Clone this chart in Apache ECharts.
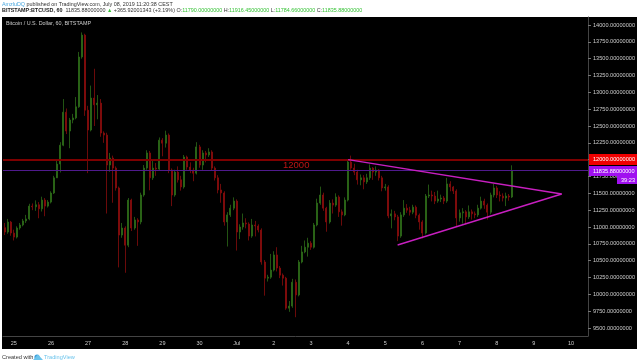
<!DOCTYPE html>
<html>
<head>
<meta charset="utf-8">
<title>BTCUSD</title>
<style>
  html, body { margin: 0; padding: 0; background: #fff; }
  #chart { width: 640px; height: 364px; }
</style>
<script src="https://cdn.jsdelivr.net/npm/echarts@6/dist/echarts.min.js"></script>
</head>
<body>
<div id="chart"></div>
<script>
const dayLabels = ['25', '26', '27', '28', '29', '30', 'Jul', '2', '3', '4', '5', '6', '7', '8', '9', '10'];
const priceTicks = [9500, 9750, 10000, 10250, 10500, 10750, 11000, 11250, 11500, 11750, 12000, 12250, 12500, 12750, 13000, 13250, 13500, 13750, 14000];

// two-hour bars, 12 per line
const opens = [
  10990, 10925, 11073, 10910, 10850, 10985, 11030, 11090, 11120, 11310, 11300, 11330,
  11270, 11400, 11310, 11370, 11505, 11730, 11935, 12215, 12705, 12425, 12590, 12620,
  12785, 13525, 13850, 12735, 12440, 12915, 12815, 12840, 12395, 12365, 11920, 12025,
  11875, 11580, 10880, 10985, 10730, 11400, 10985, 11105, 11075, 11475, 11875, 12100,
  11730, 11875, 11860, 12290, 12245, 12365, 11845, 11475, 11815, 11700, 11595, 12040,
  11890, 11845, 11800, 12190, 11920, 12100, 12070, 12115, 11875, 11730, 11550, 11505,
  11075, 11180, 11280, 11385, 10925, 11000, 11060, 11045, 10865, 11030, 11015, 10955,
  10480, 10240, 10255, 10360, 10585, 10390, 10285, 10240, 9795, 9825, 10180, 9990,
  10480, 10630, 10700, 10760, 10700, 11030, 11355, 11475, 11280, 11075, 11355, 11325,
  11445, 11225, 11180, 11400, 11965, 11875, 11815, 11700, 11730, 11670, 11730, 11875,
  11815, 11845, 11730, 11580, 11595, 11165, 11195, 11150, 10865, 11180, 11280, 11250,
  11220, 11295, 11175, 11075, 10910, 11460, 11475, 11460, 11385, 11415, 11430, 11385,
  11640, 11595, 11535, 11135, 11210, 11225, 11150, 11225, 11195, 11180, 11280, 11385,
  11325, 11220, 11475, 11580, 11475, 11460, 11430, 11460, 11445
];

const closes = [
  10925, 11073, 10910, 10850, 10985, 11030, 11090, 11120, 11310, 11300, 11330, 11270,
  11400, 11310, 11370, 11505, 11730, 11935, 12215, 12705, 12425, 12590, 12620, 12785,
  13525, 13850, 12735, 12440, 12915, 12815, 12840, 12395, 12365, 11920, 12025, 11875,
  11580, 10880, 10985, 10730, 11400, 10985, 11105, 11075, 11475, 11875, 12100, 11730,
  11875, 11860, 12290, 12245, 12365, 11845, 11475, 11815, 11700, 11595, 12040, 11890,
  11845, 11800, 12190, 11920, 12100, 12070, 12115, 11875, 11730, 11550, 11505, 11075,
  11180, 11280, 11385, 10925, 11000, 11060, 11045, 10865, 11030, 11015, 10955, 10480,
  10240, 10255, 10360, 10585, 10390, 10285, 10240, 9795, 9825, 10180, 9990, 10480,
  10630, 10700, 10760, 10700, 11030, 11355, 11475, 11280, 11075, 11355, 11325, 11445,
  11225, 11180, 11400, 11965, 11875, 11815, 11700, 11730, 11670, 11730, 11875, 11815,
  11845, 11730, 11580, 11595, 11165, 11195, 11150, 10865, 11180, 11280, 11250, 11220,
  11295, 11175, 11075, 10910, 11460, 11475, 11460, 11385, 11415, 11430, 11385, 11640,
  11595, 11535, 11135, 11210, 11225, 11150, 11225, 11195, 11180, 11280, 11385, 11325,
  11220, 11475, 11580, 11475, 11460, 11430, 11460, 11445, 11835
];

const highs = [
  11060, 11120, 11090, 10960, 11010, 11060, 11120, 11180, 11345, 11350, 11395, 11370,
  11450, 11430, 11400, 11530, 11760, 12010, 12260, 12900, 12760, 12620, 12680, 12930,
  13600, 13890, 13870, 12800, 13100, 13350, 12960, 12900, 12420, 12400, 12100, 12060,
  11900, 11600, 11060, 11010, 11430, 11420, 11150, 11130, 11510, 11920, 12140, 12130,
  11980, 11950, 12330, 12320, 12430, 12390, 11870, 11850, 11900, 11760, 12070, 12060,
  11960, 11880, 12260, 12220, 12140, 12130, 12170, 12140, 11900, 11770, 11640, 11530,
  11220, 11330, 11440, 11410, 11040, 11200, 11130, 11070, 11120, 11090, 11040, 10980,
  10510, 10290, 10600, 10640, 10700, 10420, 10310, 10260, 9900, 10230, 10220, 10510,
  10720, 10800, 10840, 10790, 11060, 11420, 11600, 11510, 11300, 11400, 11410, 11500,
  11470, 11260, 11440, 11990, 12060, 11940, 11850, 11780, 11770, 11790, 11930, 11890,
  11900, 11860, 11760, 11640, 11620, 11260, 11240, 11180, 11220, 11400, 11340, 11300,
  11330, 11320, 11200, 11100, 11490, 11630, 11540, 11520, 11540, 11480, 11460, 11730,
  11680, 11610, 11560, 11260, 11280, 11250, 11320, 11260, 11230, 11330, 11450, 11420,
  11350, 11510, 11640, 11610, 11530, 11500, 11510, 11490, 11916
];

const lows = [
  10880, 10900, 10870, 10800, 10830, 10960, 11010, 11060, 11100, 11250, 11240, 11130,
  11230, 11160, 11290, 11350, 11490, 11790, 11810, 12200, 12380, 12170, 12540, 12600,
  12770, 13500, 12650, 11800, 12420, 12500, 12600, 12340, 12250, 11200, 11820, 11360,
  11540, 10400, 10840, 10320, 10700, 10940, 10960, 10720, 11040, 11450, 11850, 11545,
  11700, 11760, 11840, 12050, 12180, 11800, 11310, 11450, 11660, 11540, 11570, 11850,
  11800, 11680, 11780, 11880, 11850, 11960, 12040, 11840, 11690, 11500, 11360, 11020,
  10710, 11150, 11250, 10650, 10820, 10960, 10980, 10800, 10840, 10860, 10920, 10440,
  9980, 10190, 10230, 10340, 10340, 10240, 10130, 9770, 9740, 9800, 9660, 9970,
  10460, 10610, 10560, 10660, 10680, 11010, 11330, 11240, 10930, 11050, 11200, 11300,
  11150, 11020, 11160, 11380, 11850, 11770, 11630, 11620, 11560, 11640, 11700, 11700,
  11760, 11690, 11530, 11540, 11130, 10980, 11100, 10790, 10840, 11150, 11210, 11170,
  11190, 11130, 10960, 10830, 10890, 11430, 11380, 11340, 11360, 11370, 11340, 11360,
  11530, 11490, 11000, 11080, 11050, 11040, 11120, 11110, 11130, 11150, 11260, 11270,
  11110, 11190, 11440, 11430, 11380, 11380, 11310, 11390, 11430
];

const resistancePrice = 12000;
const lastPrice = 11835.88;
// triangle ends: [bar slot, price]
const upperTrend = [[111, 12000], [180, 11490]];
const lowerTrend = [[127, 10732], [180, 11490]];

const slotCount = 189;
const firstDaySlot = 3;
const slotsPerDay = 12;

const categories = [];
for (let i = 0; i < slotCount; i++) {
  const d = (i - firstDaySlot) / slotsPerDay;
  categories.push(Number.isInteger(d) && dayLabels[d] ? dayLabels[d] : '');
}

const candleData = closes.map((c, i) => [opens[i], c, lows[i], highs[i]]);

const textFont = '"Liberation Sans", Arial, sans-serif';
const green = '#35c235';

const chart = echarts.init(document.getElementById('chart'));

chart.setOption({
  animation: false,
  backgroundColor: '#fff',
  grid: { left: 3, right: 52, top: 17, bottom: 28 },
  xAxis: {
    type: 'category',
    data: categories,
    axisLine: { lineStyle: { color: '#444', width: 1 } },
    axisTick: {
      length: 2,
      alignWithLabel: true,
      interval: (i) => categories[i] !== '',
      lineStyle: { color: '#777' },
    },
    axisLabel: { interval: 0, color: '#ccc', fontSize: 5.5, fontFamily: textFont, margin: 4 },
    splitLine: { show: false },
  },
  yAxis: {
    type: 'value',
    position: 'right',
    min: 9381,
    max: 14119,
    axisLine: { show: true, lineStyle: { color: '#444', width: 1 } },
    axisTick: { show: true, length: 3, customValues: priceTicks, lineStyle: { color: '#777' } },
    axisLabel: {
      customValues: priceTicks,
      color: '#ccc',
      fontSize: 5.6,
      fontFamily: textFont,
      margin: 5,
      formatter: (v) => v.toFixed(8),
    },
    splitLine: { show: false },
  },
  series: [
    {
      type: 'candlestick',
      data: candleData,
      barWidth: 1.5,
      itemStyle: {
        color: '#3c8a24',
        color0: '#b01010',
        borderColor: '#2c6a18',
        borderColor0: '#860c0c',
        borderWidth: 0.8,
      },
      markLine: {
        silent: true,
        symbol: 'none',
        label: { show: false },
        data: [
          { yAxis: resistancePrice, lineStyle: { color: '#7d0000', width: 2, type: 'solid' } },
          { yAxis: lastPrice, lineStyle: { color: '#4f1a8c', width: 1.2, type: 'solid' } },
          [
            { coord: upperTrend[0], lineStyle: { color: '#c81fc0', width: 1.4, type: 'solid' } },
            { coord: upperTrend[1] },
          ],
          [
            { coord: lowerTrend[0], lineStyle: { color: '#c81fc0', width: 1.4, type: 'solid' } },
            { coord: lowerTrend[1] },
          ],
        ],
      },
    },
  ],
  graphic: [
    // black panel behind the plot and both axes
    { type: 'rect', z: -10, shape: { x: 2, y: 17, width: 635, height: 332 }, style: { fill: '#000' } },
    {
      type: 'text', x: 2, y: 2,
      style: {
        text: '{a|AmzluDQ}{b| published on TradingView.com, July 08, 2019 11:20:38 CEST}',
        rich: {
          a: { fill: '#4aa8e0', fontSize: 5.4, fontFamily: textFont },
          b: { fill: '#333', fontSize: 5.4, fontFamily: textFont },
        },
      },
    },
    {
      type: 'text', x: 2, y: 8,
      style: {
        text: '{b|BITSTAMP:BTCUSD, 60}{n|  11835.88000000 }{g|▲}{n| +365.92001343 (+3.19%) O:}{g|11790.00000000}{n| H:}{g|11916.45000000}{n| L:}{g|11784.66000000}{n| C:}{g|11835.88000000}',
        rich: {
          b: { fill: '#222', fontSize: 5.4, fontWeight: 'bold', fontFamily: textFont },
          n: { fill: '#333', fontSize: 5.4, fontFamily: textFont },
          g: { fill: green, fontSize: 5.4, fontFamily: textFont },
        },
      },
    },
    {
      type: 'text', x: 6, y: 21,
      style: { text: 'Bitcoin / U.S. Dollar, 60, BITSTAMP', fill: '#ccc', fontSize: 5.4, fontFamily: textFont },
    },
    {
      type: 'text', x: 283, y: 160,
      style: { text: '12000', fill: '#c01414', fontSize: 9.5, fontFamily: textFont },
    },
    // price tags on the right axis
    { type: 'rect', z: 20, shape: { x: 589, y: 154, width: 48, height: 11 }, style: { fill: '#f00000' } },
    {
      type: 'text', z: 21, x: 593, y: 156.5,
      style: { text: '12000.00000000', fill: '#fff', fontSize: 5.6, fontFamily: textFont },
    },
    { type: 'rect', z: 20, shape: { x: 589, y: 166, width: 48, height: 10 }, style: { fill: '#a010f0' } },
    {
      type: 'text', z: 21, x: 593, y: 168,
      style: { text: '11835.88000000', fill: '#fff', fontSize: 5.6, fontFamily: textFont },
    },
    { type: 'rect', z: 20, shape: { x: 617, y: 176, width: 20, height: 8 }, style: { fill: '#a010f0' } },
    {
      type: 'text', z: 21, x: 621, y: 177.5,
      style: { text: '39:23', fill: '#fff', fontSize: 5.6, fontFamily: textFont },
    },
    // footer
    {
      type: 'text', x: 2, y: 354,
      style: { text: 'Created with', fill: '#333', fontSize: 5.6, fontFamily: textFont },
    },
    { type: 'circle', shape: { cx: 37, cy: 357, r: 2.6 }, style: { fill: '#3fa0dc' } },
    { type: 'polygon', shape: { points: [[33, 360], [38, 354.5], [43, 360]] }, style: { fill: '#6cc4ec' } },
    {
      type: 'text', x: 44, y: 354,
      style: { text: 'TradingView', fill: '#6cc4ec', fontSize: 5.6, fontFamily: textFont },
    },
  ],
});
</script>
</body>
</html>
